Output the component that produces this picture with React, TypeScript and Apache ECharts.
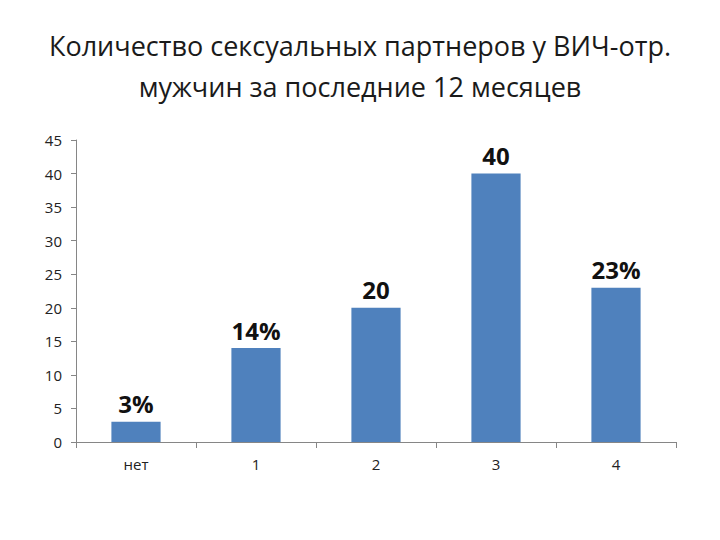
import { useEffect, useRef } from 'react';
import * as echarts from 'echarts';

const categories = ['нет', '1', '2', '3', '4'];
const values = [3, 14, 20, 40, 23];
const barLabels = ['3%', '14%', '20', '40', '23%'];
const titleLines = [
  'Количество сексуальных партнеров у ВИЧ-отр.',
  'мужчин за последние 12 месяцев',
];

const font = '"Open Sans", "Liberation Sans", sans-serif';

export default function App() {
  const chartRef = useRef<HTMLDivElement>(null);

  useEffect(() => {
    if (!chartRef.current) return;
    const chart = echarts.init(chartRef.current, undefined, { renderer: 'svg' });

    const option: echarts.EChartsOption = {
      animation: false,
      backgroundColor: '#ffffff',
      textStyle: { fontFamily: font },
      title: {
        text: titleLines.join('\n'),
        left: 'center',
        top: 20,
        textStyle: {
          fontFamily: font,
          fontSize: 27,
          fontWeight: 'normal',
          color: '#1a1a1a',
          lineHeight: 41,
        },
      },
      grid: { left: 76, right: 44, top: 140, bottom: 98 },
      xAxis: {
        type: 'category',
        data: categories,
        axisLine: { lineStyle: { color: '#868686' } },
        axisTick: { show: true, alignWithLabel: false, length: 6, lineStyle: { color: '#868686' } },
        axisLabel: { color: '#222', fontSize: 15, margin: 14, fontFamily: font },
      },
      yAxis: {
        type: 'value',
        min: 0,
        max: 45,
        interval: 5,
        axisLine: { show: true, lineStyle: { color: '#868686' } },
        axisTick: { show: true, length: 5, lineStyle: { color: '#868686' } },
        axisLabel: { color: '#222', fontSize: 15, margin: 14, fontFamily: font },
        splitLine: { show: false },
      },
      series: [
        {
          type: 'bar',
          data: values,
          barWidth: '41%',
          itemStyle: { color: '#4F81BD' },
          label: {
            show: true,
            position: 'top',
            distance: 6,
            formatter: (p: any) => barLabels[p.dataIndex],
            fontSize: 24,
            fontWeight: 'bold',
            color: '#111',
            fontFamily: font,
          },
        },
      ],
    };

    chart.setOption(option);
    return () => chart.dispose();
  }, []);

  return <div ref={chartRef} style={{ width: 720, height: 540, margin: -8 }} />;
}
